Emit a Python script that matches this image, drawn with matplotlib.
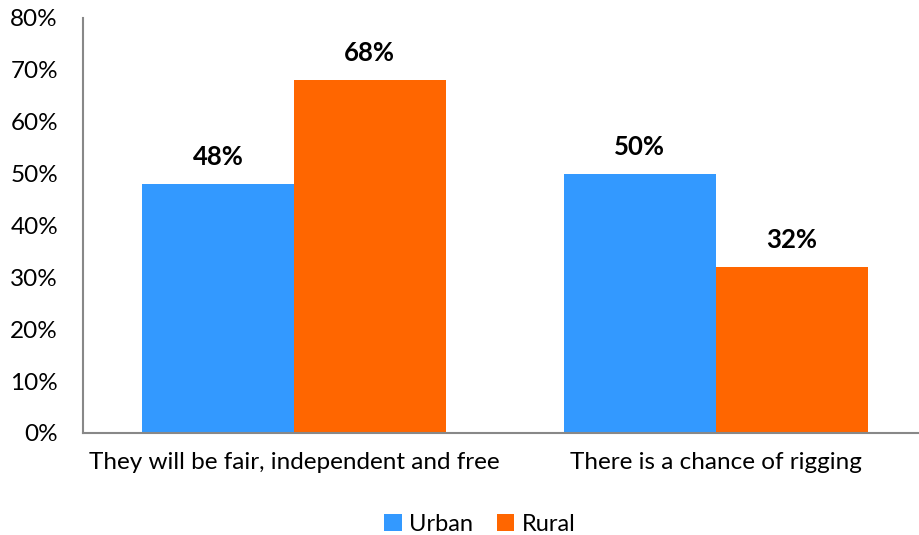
import numpy as np
import matplotlib.pyplot as plt
from matplotlib.ticker import FuncFormatter

plt.rcParams['font.family'] = ['Lato', 'DejaVu Sans']

categories = ['They will be fair, independent and free', 'There is a chance of rigging']
urban = [48, 50]
rural = [68, 32]

fig = plt.figure(figsize=(9.19, 5.35), dpi=100)
ax = fig.add_axes([0.0903, 0.1907, 0.918, 0.7757])

x = np.arange(len(categories))
w = 0.36
b1 = ax.bar(x - w / 2, urban, w, color='#3399FF', label='Urban')
b2 = ax.bar(x + w / 2, rural, w, color='#FF6600', label='Rural')

for bars in (b1, b2):
    for b in bars:
        ax.text(b.get_x() + b.get_width() / 2, b.get_height() + 2.9, f"{b.get_height():.0f}%",
                ha='center', va='bottom', fontsize=18.5, fontweight='bold')

ax.set_xlim(-0.5, 1.5)
ax.set_ylim(0, 80)
ax.set_yticks(np.arange(0, 81, 10))
ax.yaxis.set_major_formatter(FuncFormatter(lambda v, p: f"{v:.0f}%"))
ax.set_xticks(x)
ax.set_xticklabels(categories)
ax.tick_params(length=0, labelsize=17.5)
ax.tick_params(axis='x', pad=14)
ax.tick_params(axis='y', pad=18)

for s in ['top', 'right']:
    ax.spines[s].set_visible(False)
for s in ['left', 'bottom']:
    ax.spines[s].set_color('#888888')
    ax.spines[s].set_linewidth(1.5)

fig.legend(loc='center', bbox_to_anchor=(0.522, 0.02), ncol=2, frameon=False,
           fontsize=17, handlelength=0.75, handleheight=0.75, handletextpad=0.3, columnspacing=1.0)

fig.savefig('out.png', dpi=100)
